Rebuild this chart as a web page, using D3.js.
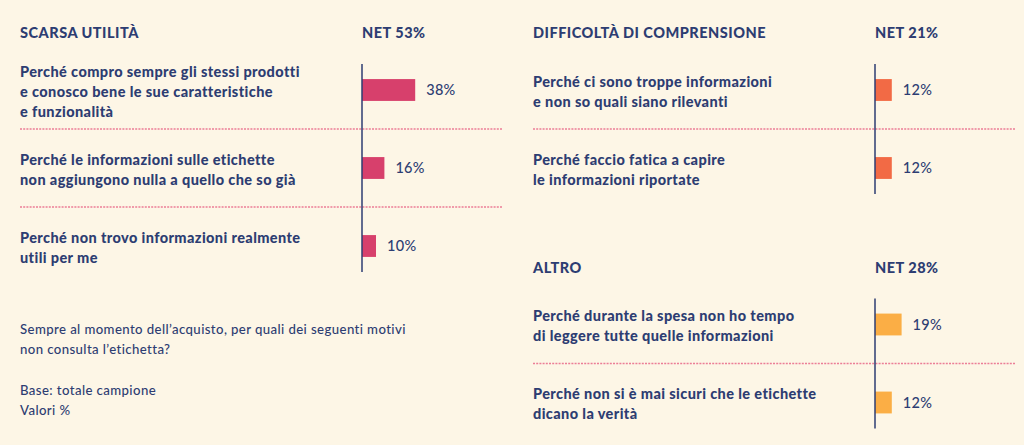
<!DOCTYPE html>
<html>
<head>
<meta charset="utf-8">
<script src="https://cdn.jsdelivr.net/npm/d3@7"></script>
<style>
  html, body { margin: 0; padding: 0; background: #fdf6e6; }
  svg { display: block; }
  text { font-family: Lato, "Noto Sans", sans-serif; fill: #2d3d72; }
</style>
</head>
<body>
<svg id="chart" width="1024" height="445"></svg>
<script>
// ---- data ----
const groupTitles = ["SCARSA UTILITÀ", "DIFFICOLTÀ DI COMPRENSIONE", "ALTRO"];
const groupNets = ["NET 53%", "NET 21%", "NET 28%"];
const groupColors = ["#d7406c", "#f26a45", "#fbae45"];

const scarsaLabels = [
  ["Perché compro sempre gli stessi prodotti", "e conosco bene le sue caratteristiche", "e funzionalità"],
  ["Perché le informazioni sulle etichette", "non aggiungono nulla a quello che so già"],
  ["Perché non trovo informazioni realmente", "utili per me"]
];
const scarsaValues = [38, 16, 10];

const difficoltaLabels = [
  ["Perché ci sono troppe informazioni", "e non so quali siano rilevanti"],
  ["Perché faccio fatica a capire", "le informazioni riportate"]
];
const difficoltaValues = [12, 12];

const altroLabels = [
  ["Perché durante la spesa non ho tempo", "di leggere tutte quelle informazioni"],
  ["Perché non si è mai sicuri che le etichette", "dicano la verità"]
];
const altroValues = [19, 12];

const noteLines = [
  "Sempre al momento dell’acquisto, per quali dei seguenti motivi",
  "non consulta l’etichetta?",
  "",
  "Base: totale campione",
  "Valori %"
];

// ---- layout ----
const svg = d3.select("#chart");
const navy = "#2d3d72";
const rowStep = 78;

const panels = [
  { title: groupTitles[0], net: groupNets[0], color: groupColors[0], labels: scarsaLabels, values: scarsaValues, left: 20, axisX: 362, right: 502, titleY: 33 },
  { title: groupTitles[1], net: groupNets[1], color: groupColors[1], labels: difficoltaLabels, values: difficoltaValues, left: 533, axisX: 875, right: 1015, titleY: 33 },
  { title: groupTitles[2], net: groupNets[2], color: groupColors[2], labels: altroLabels, values: altroValues, left: 533, axisX: 875, right: 1015, titleY: 267.5 }
];

panels.forEach(p => {
  const g = svg.append("g");
  const n = p.values.length;
  const firstCenter = p.titleY + 57;
  const y = d3.scaleBand()
    .domain(d3.range(n))
    .range([firstCenter - rowStep / 2, firstCenter - rowStep / 2 + rowStep * n])
    .paddingInner(0.72).paddingOuter(0.36);
  const x = d3.scaleLinear().domain([0, 100]).range([p.axisX, p.axisX + 140]);
  const center = i => y(i) + y.bandwidth() / 2;

  // titles
  g.append("text").attr("x", p.left).attr("y", p.titleY).attr("dy", "0.35em")
    .style("font-weight", 900).style("font-size", "14.5px").style("letter-spacing", "0.5px").text(p.title);
  g.append("text").attr("x", p.axisX).attr("y", p.titleY).attr("dy", "0.35em")
    .style("font-weight", 900).style("font-size", "14.5px").style("letter-spacing", "0.5px").text(p.net);

  // separators
  g.selectAll("line.sep").data(d3.range(n - 1)).join("line")
    .attr("class", "sep")
    .attr("x1", p.left).attr("x2", p.right)
    .attr("y1", i => (center(i) + center(i + 1)) / 2)
    .attr("y2", i => (center(i) + center(i + 1)) / 2)
    .attr("stroke", "#ec7d96").attr("stroke-width", 1.5)
    .attr("stroke-dasharray", "2,1.2");

  // bars
  g.selectAll("rect.bar").data(p.values).join("rect")
    .attr("class", "bar")
    .attr("x", x(0)).attr("y", (d, i) => y(i))
    .attr("width", d => x(d) - x(0)).attr("height", y.bandwidth())
    .attr("fill", p.color);

  // axis line
  g.append("line")
    .attr("x1", x(0)).attr("x2", x(0))
    .attr("y1", center(0) - 26).attr("y2", center(n - 1) + 26)
    .attr("stroke", navy).attr("stroke-width", 1.5);

  // value labels
  g.selectAll("text.val").data(p.values).join("text")
    .attr("class", "val")
    .attr("x", d => x(d) + 11).attr("y", (d, i) => center(i)).attr("dy", "0.35em")
    .style("font-size", "14.5px").style("font-weight", 500).style("letter-spacing", "0.3px")
    .text(d => d + "%");

  // row labels
  p.labels.forEach((lines, i) => {
    const t = g.append("text").attr("x", p.left)
      .style("font-weight", 900).style("font-size", "14.5px").style("letter-spacing", "0.4px");
    lines.forEach((line, k) => {
      t.append("tspan").attr("x", p.left)
        .attr("y", center(i) + 1.5 + (k - (lines.length - 1) / 2) * 20)
        .attr("dy", "0.35em").text(line);
    });
  });
});

// notes
const notes = svg.append("text").style("font-size", "13.2px").style("font-weight", 500).style("letter-spacing", "0.4px");
noteLines.forEach((line, k) => {
  notes.append("tspan").attr("x", 20).attr("y", 329 + k * 20.3).attr("dy", "0.35em").text(line);
});
</script>
</body>
</html>
